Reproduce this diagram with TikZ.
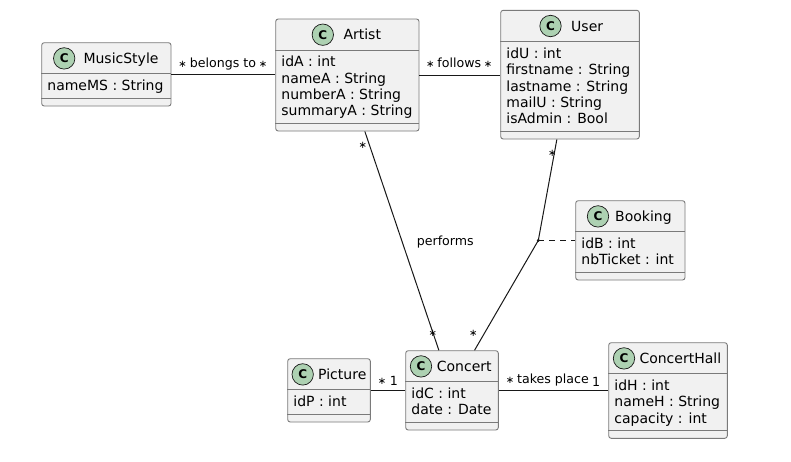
\documentclass[tikz,border=0pt]{standalone}
\usepackage{fontspec}
\setmainfont{DejaVu Sans}
\definecolor{classfill}{HTML}{F1F1F1}
\definecolor{classborder}{HTML}{7A7A7A}
\definecolor{classline}{HTML}{181818}
\definecolor{iconfill}{HTML}{ADD1B2}

\begin{document}
\begin{tikzpicture}[x=1pt,y=-1pt,
  classbox/.style={draw=classborder, line width=0.9pt, fill=classfill, rounded corners=2.5pt, inner sep=0pt},
  divider/.style={draw=classborder, line width=0.9pt},
  classicon/.style={circle, draw=classline, line width=0.7pt, fill=iconfill, minimum size=21.4pt, inner sep=0pt, font=\fontsize{12}{12}\selectfont\bfseries},
  classname/.style={anchor=base west, inner sep=0pt, font=\fontsize{14}{16.3}\selectfont},
  classattrs/.style={anchor=north west, inner sep=0pt, align=left, font=\fontsize{14}{16.3}\selectfont},
  assoc/.style={draw=classline, line width=1pt},
  linklabel/.style={anchor=base, inner sep=0pt, font=\fontsize{12.6}{14}\selectfont},
  multstar/.style={anchor=base, inner sep=0pt, font=\fontsize{10}{12}\selectfont}]
\fill[white] (0,0) rectangle (791,461);
\useasboundingbox (0,0) rectangle (791,461);

% MusicStyle
\node[classbox, minimum width=129.3pt, minimum height=63.3pt] (musicstyle) at (106.35,74.35) {};
\draw[divider] ([yshift=-31.5pt]musicstyle.north west) -- ([yshift=-31.5pt]musicstyle.north east);
\draw[divider] ([yshift=8pt]musicstyle.south west) -- ([yshift=8pt]musicstyle.south east);
\node[classicon] (musicstyleicon) at (64.2,58.4) {C};
\node[classname] (musicstylename) at (83.3,63.5) {MusicStyle};
\node[classattrs] (musicstyleattrs) at (47.2,79.6) {nameMS : String};

% Artist
\node[classbox, minimum width=143.3pt, minimum height=112pt] (artist) at (347.35,75) {};
\draw[divider] ([yshift=-31.5pt]artist.north west) -- ([yshift=-31.5pt]artist.north east);
\draw[divider] ([yshift=8pt]artist.south west) -- ([yshift=8pt]artist.south east);
\node[classicon] (artisticon) at (322.8,34.7) {C};
\node[classname] (artistname) at (343.3,39.8) {Artist};
\node[classattrs] (artistattrs) at (281.2,56.1) {idA : int\\nameA : String\\numberA : String\\summaryA : String};

% User
\node[classbox, minimum width=138.6pt, minimum height=128.7pt] (user) at (570,74.65) {};
\draw[divider] ([yshift=-31.5pt]user.north west) -- ([yshift=-31.5pt]user.north east);
\draw[divider] ([yshift=8pt]user.south west) -- ([yshift=8pt]user.south east);
\node[classicon] (usericon) at (550.5,26) {C};
\node[classname] (username) at (571,31.1) {User};
\node[classattrs] (userattrs) at (506.2,47.7) {idU : int\\firstname : String\\lastname : String\\mailU : String\\isAdmin : Bool};

% Booking
\node[classbox, minimum width=109.3pt, minimum height=79.3pt] (booking) at (630.35,240.35) {};
\draw[divider] ([yshift=-31.5pt]booking.north west) -- ([yshift=-31.5pt]booking.north east);
\draw[divider] ([yshift=8pt]booking.south west) -- ([yshift=8pt]booking.south east);
\node[classicon] (bookingicon) at (598,216.4) {C};
\node[classname] (bookingname) at (615,221.5) {Booking};
\node[classattrs] (bookingattrs) at (581.2,237.7) {idB : int\\nbTicket : int};

% Picture
\node[classbox, minimum width=82.6pt, minimum height=63.3pt] (picture) at (329,390.35) {};
\draw[divider] ([yshift=-31.5pt]picture.north west) -- ([yshift=-31.5pt]picture.north east);
\draw[divider] ([yshift=8pt]picture.south west) -- ([yshift=8pt]picture.south east);
\node[classicon] (pictureicon) at (302.7,374.4) {C};
\node[classname] (picturename) at (318,379.5) {Picture};
\node[classattrs] (pictureattrs) at (293.2,395.6) {idP : int};

% Concert
\node[classbox, minimum width=92.6pt, minimum height=79.3pt] (concert) at (452,390.35) {};
\draw[divider] ([yshift=-31.5pt]concert.north west) -- ([yshift=-31.5pt]concert.north east);
\draw[divider] ([yshift=8pt]concert.south west) -- ([yshift=8pt]concert.south east);
\node[classicon] (concerticon) at (421,366.4) {C};
\node[classname] (concertname) at (436.7,371.5) {Concert};
\node[classattrs] (concertattrs) at (411.2,387.6) {idC : int\\date : Date};

% ConcertHall
\node[classbox, minimum width=118.6pt, minimum height=95.6pt] (concerthall) at (668,390.5) {};
\draw[divider] ([yshift=-31.5pt]concerthall.north west) -- ([yshift=-31.5pt]concerthall.north east);
\draw[divider] ([yshift=8pt]concerthall.south west) -- ([yshift=8pt]concerthall.south east);
\node[classicon] (concerthallicon) at (624,358.4) {C};
\node[classname] (concerthallname) at (639.3,363.5) {ConcertHall};
\node[classattrs] (concerthallattrs) at (614.2,379.6) {idH : int\\nameH : String\\capacity : int};

% associations
\coordinate (bookingdot) at (538.3,240.4);
\draw[assoc] (musicstyle.east) -- (musicstyle.east -| artist.west);
\draw[assoc] (artist.east) -- (artist.east -| user.west);
\draw[assoc] ([xshift=89.6pt]artist.south west) -- ([xshift=33.6pt]concert.north west);
\draw[assoc] ([xshift=56.6pt]user.south west) -- (bookingdot) -- ([xshift=69.3pt]concert.north west);
\draw[assoc, dash pattern=on 6pt off 5pt] (bookingdot) -- (bookingdot -| booking.west);
\fill[classline] (bookingdot) circle (1.6pt);
\draw[assoc] (picture.east) -- (picture.east -| concert.west);
\draw[assoc] (concert.east) -- (concert.east -| concerthall.west);

% labels
\node[multstar] (belongsfrom) at (182.5,67.5) {∗};
\node[linklabel] (belongs) at (223,67.7) {belongs to};
\node[multstar] (belongsto) at (263,67.5) {∗};
\node[multstar] (followsfrom) at (430.3,67.5) {∗};
\node[linklabel] (follows) at (459.3,67.7) {follows};
\node[multstar] (followsto) at (488,67.5) {∗};
\node[multstar] (performsfrom) at (362.7,148.5) {∗};
\node[linklabel] (performs) at (445.3,245) {performs};
\node[multstar] (performsto) at (432.7,336.3) {∗};
\node[multstar] (bookingfrom) at (552.3,156.3) {∗};
\node[multstar] (bookingto) at (473.3,336.3) {∗};
\node[multstar] (picturefrom) at (382,384.5) {∗};
\node[linklabel] (pictureto) at (394,385) {1};
\node[multstar] (takesfrom) at (510,383.5) {∗};
\node[linklabel] (takes) at (553,383.3) {takes place};
\node[linklabel] (takesto) at (596,386.7) {1};
\end{tikzpicture}
\end{document}
